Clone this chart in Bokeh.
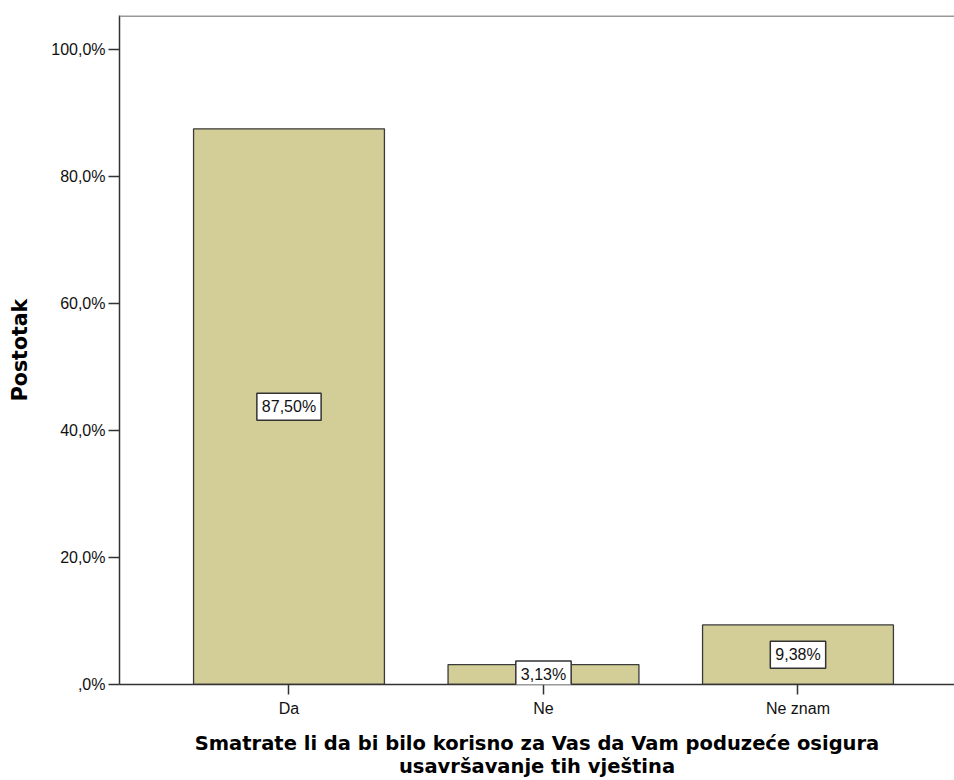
from bokeh.plotting import figure
from bokeh.models import ColumnDataSource, Range1d, FixedTicker, Label, Span
from bokeh.embed import file_html
from bokeh.resources import INLINE

categories = ["Da", "Ne", "Ne znam"]
percentages = [87.50, 3.13, 9.38]
value_labels = ["87,50%", "3,13%", "9,38%"]
y_ticks = [0, 20, 40, 60, 80, 100]
y_tick_labels = [",0%", "20,0%", "40,0%", "60,0%", "80,0%", "100,0%"]
x_title = "Smatrate li da bi bilo korisno za Vas da Vam poduzeće osigura\nusavršavanje tih vještina"
y_title = "Postotak"

xs = list(range(len(categories)))
src = ColumnDataSource(dict(x=xs, top=percentages))

p = figure(width=954, height=780, output_backend="svg", toolbar_location=None,
           x_range=Range1d(-0.666, 2.615), y_range=Range1d(0, 105.35),
           min_border_left=119, min_border_right=0, min_border_top=15,
           min_border_bottom=96)
p.outline_line_color = None
p.background_fill_color = "white"
p.border_fill_color = "white"
p.xgrid.visible = False
p.ygrid.visible = False

p.vbar(x="x", top="top", bottom=0, width=0.75, source=src,
       fill_color="#D3CE97", line_color="#3a3a3a", line_width=1.3)

for xv, v, lab in zip(xs, percentages, value_labels):
    p.add_layout(Label(x=xv, y=v / 2, text=lab,
                       text_align="center", text_baseline="middle",
                       text_font="Liberation Sans", text_font_size="16px",
                       text_color="#111111",
                       background_fill_color="white", border_line_color="#333333",
                       border_line_width=1.5, padding=5))

p.add_layout(Span(location=105.35, dimension="width", line_color="#999999",
                  line_width=3))

for ax in (p.xaxis[0], p.yaxis[0]):
    ax.axis_line_color = "#333333"
    ax.axis_line_width = 1.5
    ax.major_tick_line_color = "#333333"
    ax.major_tick_line_width = 1.5
    ax.major_tick_in = 0
    ax.minor_tick_line_color = None
    ax.major_label_text_font = "Liberation Sans"
    ax.major_label_text_font_size = "16px"
    ax.major_label_text_color = "#111111"
    ax.axis_label_text_font = "DejaVu Sans"
    ax.axis_label_text_font_style = "bold"
    ax.axis_label_text_color = "#000000"

p.xaxis.ticker = FixedTicker(ticks=xs)
p.xaxis.major_label_overrides = {i: c for i, c in zip(xs, categories)}
p.xaxis.major_tick_out = 10
p.xaxis.major_label_standoff = 5
p.xaxis.axis_label = x_title
p.xaxis.axis_label_text_font_size = "19.5px"
p.xaxis.axis_label_standoff = 12
p.xaxis.axis_label_text_line_height = 1.0

p.yaxis.ticker = FixedTicker(ticks=y_ticks)
p.yaxis.major_label_overrides = {t: l for t, l in zip(y_ticks, y_tick_labels)}
p.yaxis.major_tick_out = 11
p.yaxis.major_label_standoff = 3
p.yaxis.axis_label = y_title
p.yaxis.axis_label_text_font_size = "20.5px"
p.yaxis.axis_label_standoff = 16

open("out.html", "w").write(file_html(p, INLINE))
